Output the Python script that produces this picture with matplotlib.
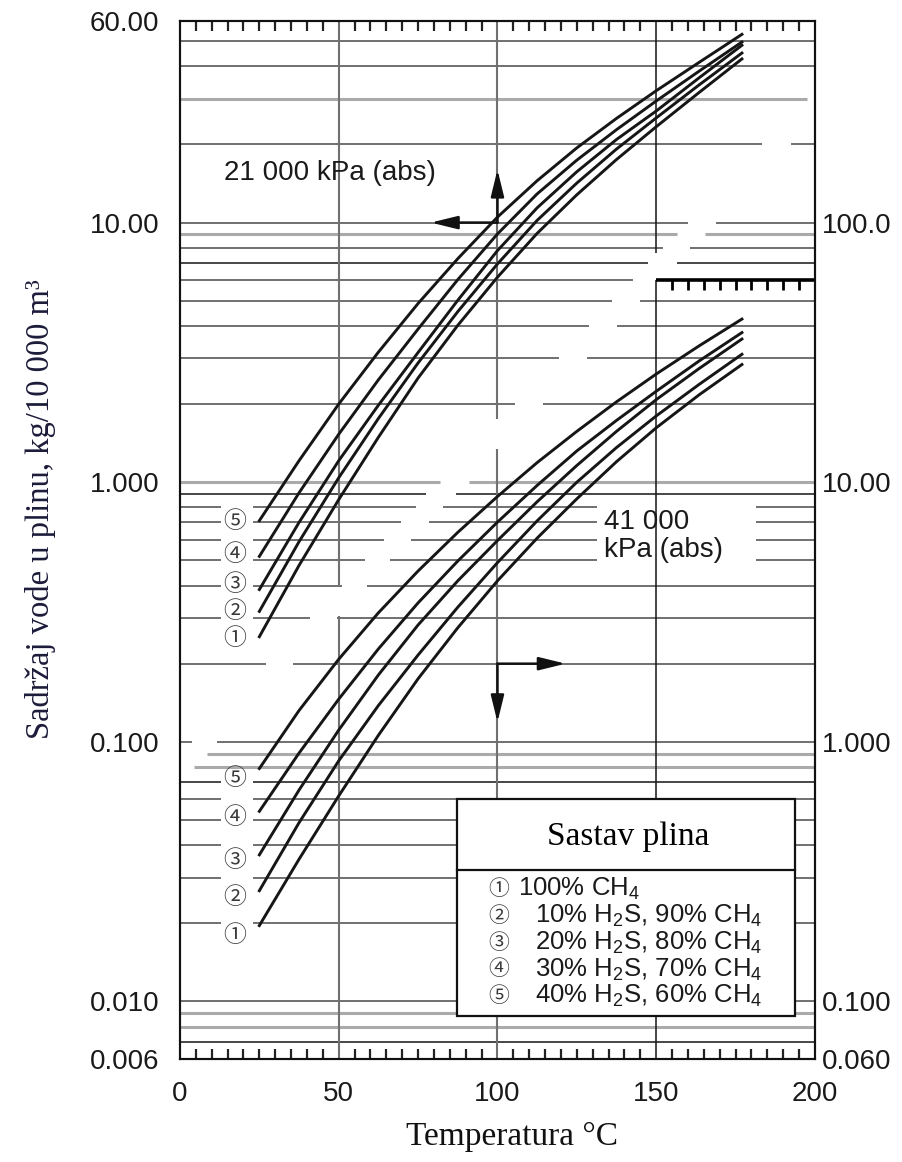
import numpy as np
import matplotlib.pyplot as plt
from matplotlib.patches import Rectangle

plt.rcParams['font.family'] = ['Liberation Sans', 'DejaVu Sans', 'Noto Sans CJK SC']
plt.rcParams['mathtext.fontset'] = 'custom'
plt.rcParams['mathtext.rm'] = 'Liberation Sans'

# temperature nodes (degC)
temp = [25, 37.5, 50, 62.5, 75, 87.5, 100, 112.5, 125, 137.5, 150, 163.5, 177]

# 21 000 kPa (abs) family, left axis (kg/10 000 m3)
hp_1 = [0.254, 0.478, 0.857, 1.49, 2.52, 4.02, 6.16, 9.09, 12.8, 17.5, 23.4, 31.7, 42.7]
hp_2 = [0.318, 0.590, 1.04, 1.76, 2.88, 4.54, 6.93, 10.2, 14.2, 19.2, 25.3, 33.9, 45.0]
hp_3 = [0.386, 0.700, 1.21, 1.98, 3.16, 5.02, 7.80, 11.4, 15.7, 20.9, 26.9, 36.1, 48.2]
hp_4 = [0.518, 0.910, 1.53, 2.48, 3.89, 6.03, 9.04, 12.9, 17.4, 22.8, 29.4, 38.3, 49.6]
hp_5 = [0.711, 1.21, 2.00, 3.17, 4.88, 7.26, 10.5, 14.5, 19.4, 25.2, 32.2, 41.4, 53.1]

# 41 000 kPa (abs) family, right axis
lp_1 = [0.196, 0.353, 0.619, 1.06, 1.75, 2.75, 4.17, 6.09, 8.63, 12.0, 16.2, 21.7, 28.4]
lp_2 = [0.267, 0.488, 0.845, 1.38, 2.16, 3.30, 4.90, 7.10, 10.0, 13.6, 18.0, 23.8, 31.1]
lp_3 = [0.367, 0.652, 1.11, 1.81, 2.82, 4.17, 5.96, 8.41, 11.6, 15.7, 20.8, 27.4, 35.6]
lp_4 = [0.540, 0.905, 1.46, 2.28, 3.43, 4.97, 7.02, 9.72, 13.2, 17.3, 22.4, 29.3, 37.7]
lp_5 = [0.789, 1.32, 2.08, 3.14, 4.55, 6.41, 8.81, 11.9, 15.7, 20.4, 26.1, 33.5, 42.5]

left_ticks = [60, 10, 1, 0.1, 0.01, 0.006]
left_labels = ['60.00', '10.00', '1.000', '0.100', '0.010', '0.006']
right_ticks = [100, 10, 1, 0.1, 0.06]
right_labels = ['100.0', '10.00', '1.000', '0.100', '0.060']
x_ticks = [0, 50, 100, 150, 200]

circled = ['①', '②', '③', '④', '⑤']
gas_mix = ['100% CH$_4$', '10% H$_2$S, 90% CH$_4$', '20% H$_2$S, 80% CH$_4$',
           '30% H$_2$S, 70% CH$_4$', '40% H$_2$S, 60% CH$_4$']

# horizontal rules: (value, kind, gaps in degC) - the scan has broken lines
styles = {'n': ('#707070', 1.4), 'l': ('#aaaaaa', 2.2), 'k': ('#151515', 1.1)}
lbl_gap = (13, 23)
h_rules = [
    (50, 'n', []), (40, 'n', []), (30, 'l', [(197.4, 200)]),
    (20, 'n', [(183.4, 192.4)]), (10, 'n', [(160, 168.8)]),
    (9, 'l', [(156.4, 165.4)]), (8, 'n', [(152, 160.8)]),
    (7, 'k', [(147.5, 156.5)]), (6, 'n', [(142.8, 200)]),
    (5, 'n', [(136, 144.8)]), (4, 'n', [(128.8, 137.5)]),
    (3, 'n', [(119.3, 128.2)]), (2, 'n', [(105.5, 114.2)]),
    (1, 'l', [(81.9, 90.9)]), (0.9, 'k', [(77.6, 86.9)]),
    (0.8, 'n', [lbl_gap, (74.3, 82.9), (131.5, 181.4)]),
    (0.7, 'n', [lbl_gap, (69.6, 78.3), (131.5, 181.4)]),
    (0.6, 'n', [lbl_gap, (64.3, 72.9), (131.5, 181.4)]),
    (0.5, 'n', [lbl_gap, (58.3, 66.3), (131.5, 181.4)]),
    (0.4, 'n', [lbl_gap, (51, 59)]),
    (0.3, 'n', [lbl_gap, (41, 49.6)]),
    (0.2, 'n', [(27, 35.7)]), (0.1, 'n', [(3.7, 11.7)]),
    (0.09, 'l', [(0, 8.4)]), (0.08, 'l', [(0, 4.4)]),
    (0.07, 'k', [lbl_gap]), (0.06, 'n', [lbl_gap]), (0.05, 'n', [lbl_gap]),
    (0.04, 'n', [lbl_gap]), (0.03, 'n', [lbl_gap]), (0.02, 'n', [lbl_gap]),
    (0.01, 'n', []), (0.009, 'l', []), (0.008, 'l', []), (0.007, 'k', []),
]
v_rules = [(50, '#707070', 1.5, (0.305, 0.4)), (100, '#707070', 1.5, (1.34, 1.75)),
           (150, '#151515', 1.1, (6.0, 7.65))]

fig = plt.figure(figsize=(9.03, 11.62), dpi=100)
ax = fig.add_axes([0.1993, 0.0886, 0.7032, 0.8937])
ax.set_yscale('log')
ax.set_xlim(0, 200)
ax.set_ylim(0.006, 60)

for val, kind, gaps in h_rules:
    col, lw = styles[kind]
    start = 0
    for g0, g1 in sorted(gaps) + [(200, 200)]:
        if g0 > start:
            ax.hlines(val, start, g0, color=col, lw=lw, zorder=1)
        start = g1

for xv, col, lw, (g0, g1) in v_rules:
    ax.vlines(xv, 0.006, g0, color=col, lw=lw, zorder=1)
    ax.vlines(xv, g1, 60, color=col, lw=lw, zorder=1)

# tick-marked bar at 6 (150..200)
ax.hlines(6, 150, 200, color='black', lw=2.6, zorder=2)
ax.plot(np.arange(155, 200, 5), np.full(9, 6.0), ls='none', marker=3,
        ms=7, mew=2, color='black', zorder=2)

for series in [hp_1, hp_2, hp_3, hp_4, hp_5]:
    ax.plot(temp, series, color='#161616', lw=2.1, zorder=3,
            solid_joinstyle='round')

ax2 = ax.twinx()
ax2.set_yscale('log')
ax2.set_ylim(0.06, 600)
for series in [lp_1, lp_2, lp_3, lp_4, lp_5]:
    ax2.plot(temp, series, color='#161616', lw=2.1, zorder=3,
             solid_joinstyle='round')

# axes styling
ax.set_xticks(x_ticks)
ax.set_xticklabels([str(v) for v in x_ticks])
ax.set_xticks(np.arange(5, 200, 5), minor=True)
ax.tick_params(axis='x', which='major', length=0, pad=16, labelsize=20,
               colors='#1a1a1a')
ax.tick_params(axis='x', which='minor', direction='in', top=True, bottom=True,
               length=7, width=1.6, color='#222222')
ax.set_yticks(left_ticks)
ax.set_yticklabels(left_labels)
ax.yaxis.set_minor_locator(plt.NullLocator())
ax.tick_params(axis='y', which='major', length=0, pad=15, labelsize=20,
               colors='#1a1a1a')
ax2.set_yticks(right_ticks)
ax2.set_yticklabels(right_labels)
ax2.yaxis.set_minor_locator(plt.NullLocator())
ax2.tick_params(axis='y', which='major', length=0, pad=5, labelsize=20,
                colors='#1a1a1a')
for a in (ax, ax2):
    for sp in a.spines.values():
        sp.set_linewidth(1.5)
        sp.set_color('#111111')

# arrows
arr = dict(arrowstyle='-|>,head_length=0.9,head_width=0.22', lw=1.8,
           color='#111111', shrinkA=0, shrinkB=0, mutation_scale=18)
ax.annotate('', xy=(79, 10), xytext=(100, 10), arrowprops=arr, zorder=4)
ax.annotate('', xy=(100, 16), xytext=(100, 10), arrowprops=arr, zorder=4)
ax.annotate('', xy=(121.5, 0.2), xytext=(100, 0.2), arrowprops=arr, zorder=4)
ax.annotate('', xy=(100, 0.119), xytext=(100, 0.2), arrowprops=arr, zorder=4)

ax.text(14.0, 15.5, '21 000 kPa (abs)', fontsize=20, color='#1a1a1a',
        ha='left', va='center', zorder=4)
ax.text(133.5, 0.62, '41 000\nkPa (abs)', fontsize=20, color='#1a1a1a',
        ha='left', va='center', linespacing=1.1, zorder=4)

# curve numbers at the left ends
circ_font = ['Noto Sans CJK SC', 'DejaVu Sans']
for c, yv in zip(circled, [0.250, 0.318, 0.405, 0.526, 0.706]):
    ax.text(17.3, yv, c, fontsize=16.5, family=circ_font, color='#3a3a3a',
            ha='center', va='center', zorder=4)
for c, yv in zip(circled, [0.0180, 0.0252, 0.0349, 0.0513, 0.0721]):
    ax.text(17.3, yv, c, fontsize=16.5, family=circ_font, color='#3a3a3a',
            ha='center', va='center', zorder=4)

# composition box
box = Rectangle((0.4367, 0.0414), 0.5318, 0.2089, transform=ax.transAxes,
                facecolor='white', edgecolor='#111111', lw=1.6, zorder=6)
ax.add_patch(box)
ax.plot([0.4367, 0.9685], [0.1817, 0.1817], transform=ax.transAxes,
        color='#111111', lw=1.6, zorder=7)
ax.text(0.706, 0.214, 'Sastav plina', transform=ax.transAxes, fontsize=24,
        family='Liberation Serif', ha='center', va='center', zorder=7)
for i, (c, s) in enumerate(zip(circled, gas_mix)):
    yy = 0.1636 - i * 0.02573
    ax.text(0.5013, yy, c, transform=ax.transAxes, fontsize=15,
            family=circ_font, color='#3a3a3a', ha='center', va='center', zorder=7)
    ax.text(0.533 if i == 0 else 0.559, yy, s, transform=ax.transAxes,
            fontsize=18.5, color='#1a1a1a', ha='left', va='center', zorder=7)

fig.text(0.567, 0.0215, 'Temperatura °C', fontsize=24, family='Liberation Serif',
         ha='center', va='center', color='#111111')
fig.text(0.045, 0.562, 'Sadržaj vode u plinu, kg/10 000 m³', fontsize=23.5,
         family='Liberation Serif', rotation=90, ha='center', va='center',
         color='#1c1c3a')

fig.savefig('out.png', dpi=100)
